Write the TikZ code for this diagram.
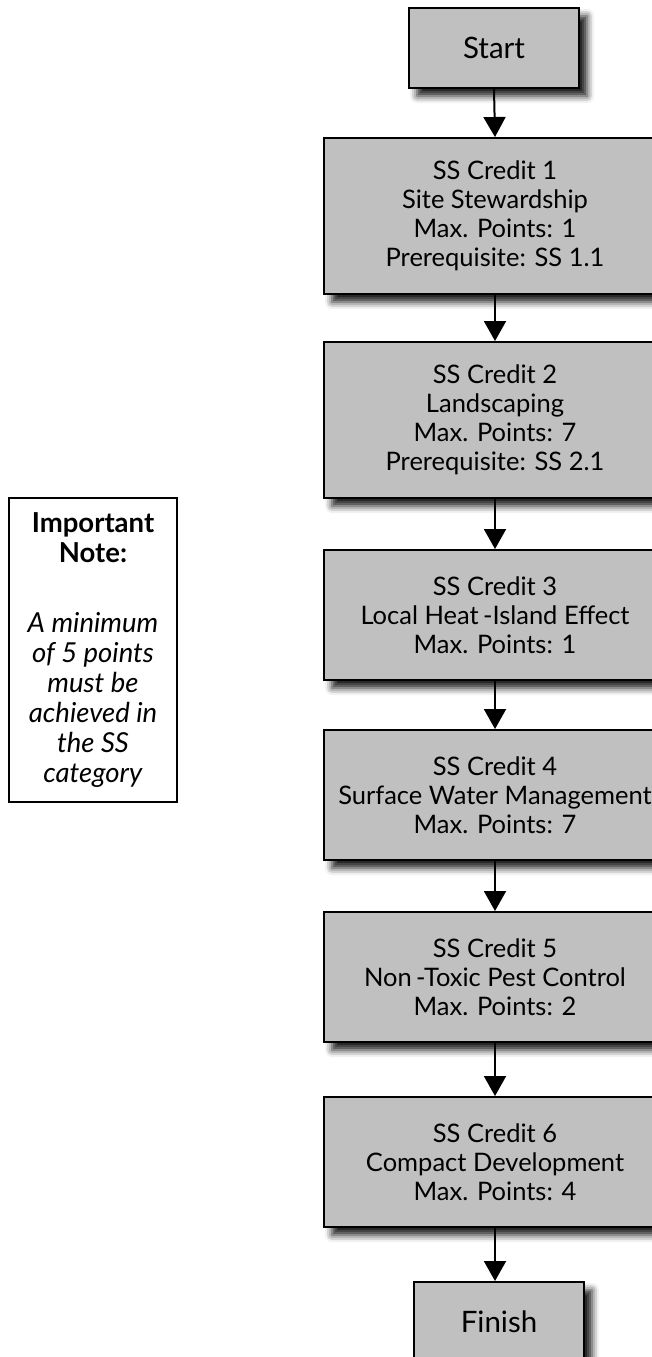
\documentclass[tikz,border=0pt]{standalone}
\usepackage{fontspec}
\setmainfont{Lato}
\usetikzlibrary{shadows.blur,arrows.meta}
\definecolor{boxgray}{RGB}{192,192,192}
\tikzset{
  stepbox/.style={draw=black, line width=2pt, fill=boxgray, align=center,
    inner sep=3pt, font=\fontsize{25.5}{29}\selectfont,
    blur shadow={shadow xshift=8pt, shadow yshift=-8pt,
      shadow blur radius=7pt, shadow opacity=90}},
  endbox/.style={stepbox, minimum width=170pt, minimum height=80pt,
    font=\fontsize{29.5}{33}\selectfont},
  creditbox/.style={stepbox, minimum width=342pt},
  notebox/.style={draw=black, line width=2pt, fill=white, align=center,
    inner sep=3pt, font=\fontsize{27.5}{30}\selectfont,
    minimum width=168pt, minimum height=304pt},
  flow/.style={line width=2pt, -{Triangle[width=22pt,length=20pt]}}
}
\begin{document}
\begin{tikzpicture}[x=1pt,y=-1pt]
  \useasboundingbox (0,0) rectangle (652,1357);

  % main sequence of credits
  \node[endbox] (start) at (494,48) {Start};
  \node[creditbox, minimum height=156pt] (c1) at (495,216)
    {SS Credit 1\\Site Stewardship\\Max. Points: 1\\Prerequisite: SS 1.1};
  \node[creditbox, minimum height=156pt] (c2) at (495,420)
    {SS Credit 2\\Landscaping\\Max. Points: 7\\Prerequisite: SS 2.1};
  \node[creditbox, minimum height=130pt] (c3) at (495,615)
    {SS Credit 3\\Local Heat\,-Island Effect\\Max. Points: 1};
  \node[creditbox, minimum height=130pt] (c4) at (495,795)
    {SS Credit 4\\Surface Water Management\\Max. Points: 7};
  \node[creditbox, minimum height=130pt] (c5) at (495,977)
    {SS Credit 5\\Non\,-Toxic Pest Control\\Max. Points: 2};
  \node[creditbox, minimum height=130pt] (c6) at (495,1162)
    {SS Credit 6\\Compact Development\\Max. Points: 4};
  \node[endbox] (finish) at (499,1322) {Finish};

  % side note
  \node[notebox] (note) at (93,650)
    {\textbf{Important}\\\textbf{Note:}\\[40pt]
     \textit{A minimum}\\\textit{of 5 points}\\\textit{must be}\\
     \textit{achieved in}\\\textit{the SS}\\\textit{category}};

  % connectors
  \draw[flow] (start.south) -- (c1.north);
  \draw[flow] (c1.south) -- (c2.north);
  \draw[flow] (c2.south) -- (c3.north);
  \draw[flow] (c3.south) -- (c4.north);
  \draw[flow] (c4.south) -- (c5.north);
  \draw[flow] (c5.south) -- (c6.north);
  \draw[flow] (c6.south) -- ([xshift=-4pt]finish.north);
\end{tikzpicture}
\end{document}
